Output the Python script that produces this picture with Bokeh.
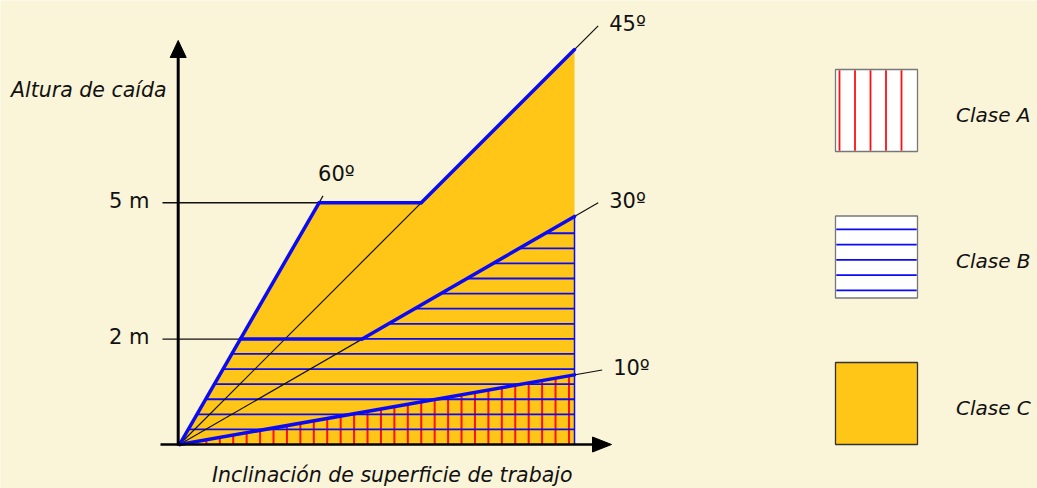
import math
from bokeh.plotting import figure
from bokeh.models import Range1d
from bokeh.embed import file_html
from bokeh.resources import INLINE
from bokeh.core.properties import value

# ---------------- data ----------------
angles_deg = [10, 30, 45, 60]
angle_labels = ["10º", "30º", "45º", "60º"]
level_labels = ["2 m", "5 m"]
level_heights = [2.67, 6.12]          # drawing units (same scale on both axes)
run_length = 10.0                     # horizontal extent of the sloped zones
class_labels = ["Clase A", "Clase B", "Clase C"]
x_title = "Inclinación de superficie de trabajo"
y_title = "Altura de caída"

# ---------------- style ----------------
BG = "#FAF4D8"
YELLOW = "#FFC617"
BLUE = "#0A0AF5"
RED = "#FF1010"
INK = "#111111"
FONT = "DejaVu Sans"

W, H = 1037, 488
U = 39.5                  # px per drawing unit
ORIGIN = (179, 444)       # page position of the axes origin
PX = 1.0 / U              # one pixel in drawing units
TS = 8 * PX               # baseline correction for text


def dx(page_x):
    return (page_x - ORIGIN[0]) / U


def dy(page_y):
    return (ORIGIN[1] - page_y) / U


p = figure(width=W, height=H,
           x_range=Range1d(dx(0), dx(W)),
           y_range=Range1d(dy(H), dy(0)),
           x_axis_location=None, y_axis_location=None,
           output_backend="svg", toolbar_location=None, min_border=0,
           background_fill_color=BG, border_fill_color=BG,
           outline_line_color=None)
p.grid.visible = False

t = {a: math.tan(math.radians(a)) for a in angles_deg}
h2, h5 = level_heights
L = run_length

# ---- zone C (all the yellow) ----
p.patch([0, h5 / t[60], h5 / t[45], L, L], [0, h5, h5, L * t[45], 0],
        fill_color=YELLOW, line_color=None)

# ---- zone A hatching: vertical red lines below 10 deg ----
red_step = 0.34
xa = []
k = 1
while k * red_step < L - 0.05:
    xa.append(k * red_step)
    k += 1
p.segment(x0=xa, y0=[0] * len(xa), x1=xa, y1=[x * t[10] for x in xa],
          line_color=RED, line_width=2)

# ---- zone B hatching: horizontal blue lines ----
blue_step = 0.382
yb, xb0 = [], []
k = 1
while k * blue_step < L * t[30] - 0.05:
    y = k * blue_step
    yb.append(y)
    xb0.append(y / t[60] if y <= h2 + 0.02 else y / t[30])
    k += 1
p.segment(x0=xb0, y0=yb, x1=[L] * len(yb), y1=yb,
          line_color=BLUE, line_width=1.8)
p.segment(x0=[L], y0=[0], x1=[L], y1=[L * t[30]], line_color=BLUE, line_width=1.5)

# ---- thin black angle lines ----
ext = {10: L * 1.07, 30: L * 1.06, 45: L * 1.06, 60: h5 / t[60] + 0.1}
ends = [(ext[a], ext[a] * t[a]) for a in angles_deg]
p.segment(x0=[0] * 4, y0=[0] * 4, x1=[e[0] for e in ends], y1=[e[1] for e in ends],
          line_color=INK, line_width=1.2)

# ---- level tick lines ----
p.segment(x0=[dx(162)] * 2, y0=level_heights,
          x1=[h / t[60] for h in level_heights], y1=level_heights,
          line_color=INK, line_width=1.3)

# ---- thick blue zone boundaries ----
bx0 = [0, h5 / t[60], h5 / t[45], h2 / t[30], h2 / t[60], 0]
by0 = [0, h5, h5, h2, h2, 0]
bx1 = [h5 / t[60], h5 / t[45], L, L, h2 / t[30], L]
by1 = [h5, h5, L * t[45], L * t[30], h2, L * t[10]]
p.segment(x0=bx0, y0=by0, x1=bx1, y1=by1, line_color=BLUE, line_width=3.5,
          line_cap="round")

# ---- axes with arrows ----
ax_x = dx(177.7)
p.segment(x0=[ax_x], y0=[dy(445)], x1=[ax_x], y1=[dy(55)], line_color="black", line_width=3)
p.patch([ax_x - 8 * PX, ax_x, ax_x + 8 * PX], [dy(57), dy(40), dy(57)],
        fill_color="black", line_color="black", line_width=1)
p.segment(x0=[dx(160)], y0=[0], x1=[dx(594)], y1=[0], line_color="black", line_width=2.5)
p.patch([dx(592), dx(611), dx(592)], [7.5 * PX, 0, -7.5 * PX],
        fill_color="black", line_color="black", line_width=1)

# ---- angle labels ----
lab_x, lab_y = [], []
for a, (ex, ey) in zip(angles_deg, ends):
    if a == 60:
        lab_x.append(ex - 5 * PX)
        lab_y.append(ey + 14 * PX + TS)
    else:
        lab_x.append(ex + 11 * PX)
        lab_y.append(ey - 6 * PX + TS)
p.text(x=lab_x, y=lab_y, text=angle_labels, text_font=value(FONT),
       text_font_size="21px", text_baseline="alphabetic", text_align="left",
       text_color=INK)

# ---- level labels ----
p.text(x=[dx(149)] * 2, y=[h - 6.3 * PX + TS for h in level_heights], text=level_labels,
       text_font=value(FONT), text_font_size="21px", text_baseline="alphabetic",
       text_align="right", text_color=INK)

# ---- axis titles ----
p.text(x=[dx(10.5)], y=[dy(97.3) + TS], text=[y_title], text_font=value(FONT),
       text_font_style="italic", text_font_size="20.5px", text_baseline="alphabetic",
       text_align="left", text_color=INK)
p.text(x=[dx(211.5)], y=[dy(482) + TS], text=[x_title], text_font=value(FONT),
       text_font_style="italic", text_font_size="20.5px", text_baseline="alphabetic",
       text_align="left", text_color=INK)

# ---- legend ----
LEG_X, LEG_TOP, SW, GAP = 835, 69, 82, 146.5
tops = [LEG_TOP + i * GAP for i in range(3)]
fills = ["white", "white", YELLOW]
borders = ["#777777", "#777777", "#333333"]
p.quad(left=[dx(LEG_X)] * 3, right=[dx(LEG_X + SW)] * 3,
       top=[dy(tp) for tp in tops], bottom=[dy(tp + SW) for tp in tops],
       fill_color=fills, line_color=borders, line_width=1.3)
# swatch A: vertical red lines
ra = [dx(LEG_X + 4 + i * 15.5) for i in range(5)]
p.segment(x0=ra, y0=[dy(tops[0] + 0.8)] * 5, x1=ra, y1=[dy(tops[0] + SW - 0.8)] * 5,
          line_color=RED, line_width=1.8)
# swatch B: horizontal blue lines
rb = [dy(tops[1] + 13.3 + i * 15.25) for i in range(5)]
p.segment(x0=[dx(LEG_X + 0.8)] * 5, y0=rb, x1=[dx(LEG_X + SW - 0.8)] * 5, y1=rb,
          line_color=BLUE, line_width=1.8)
p.text(x=[dx(955.5)] * 3, y=[dy(tp + 53.3) + TS for tp in tops], text=class_labels,
       text_font=value(FONT), text_font_style="italic", text_font_size="20px",
       text_baseline="alphabetic", text_align="left", text_color=INK)

open("out.html", "w").write(file_html(p, INLINE))
